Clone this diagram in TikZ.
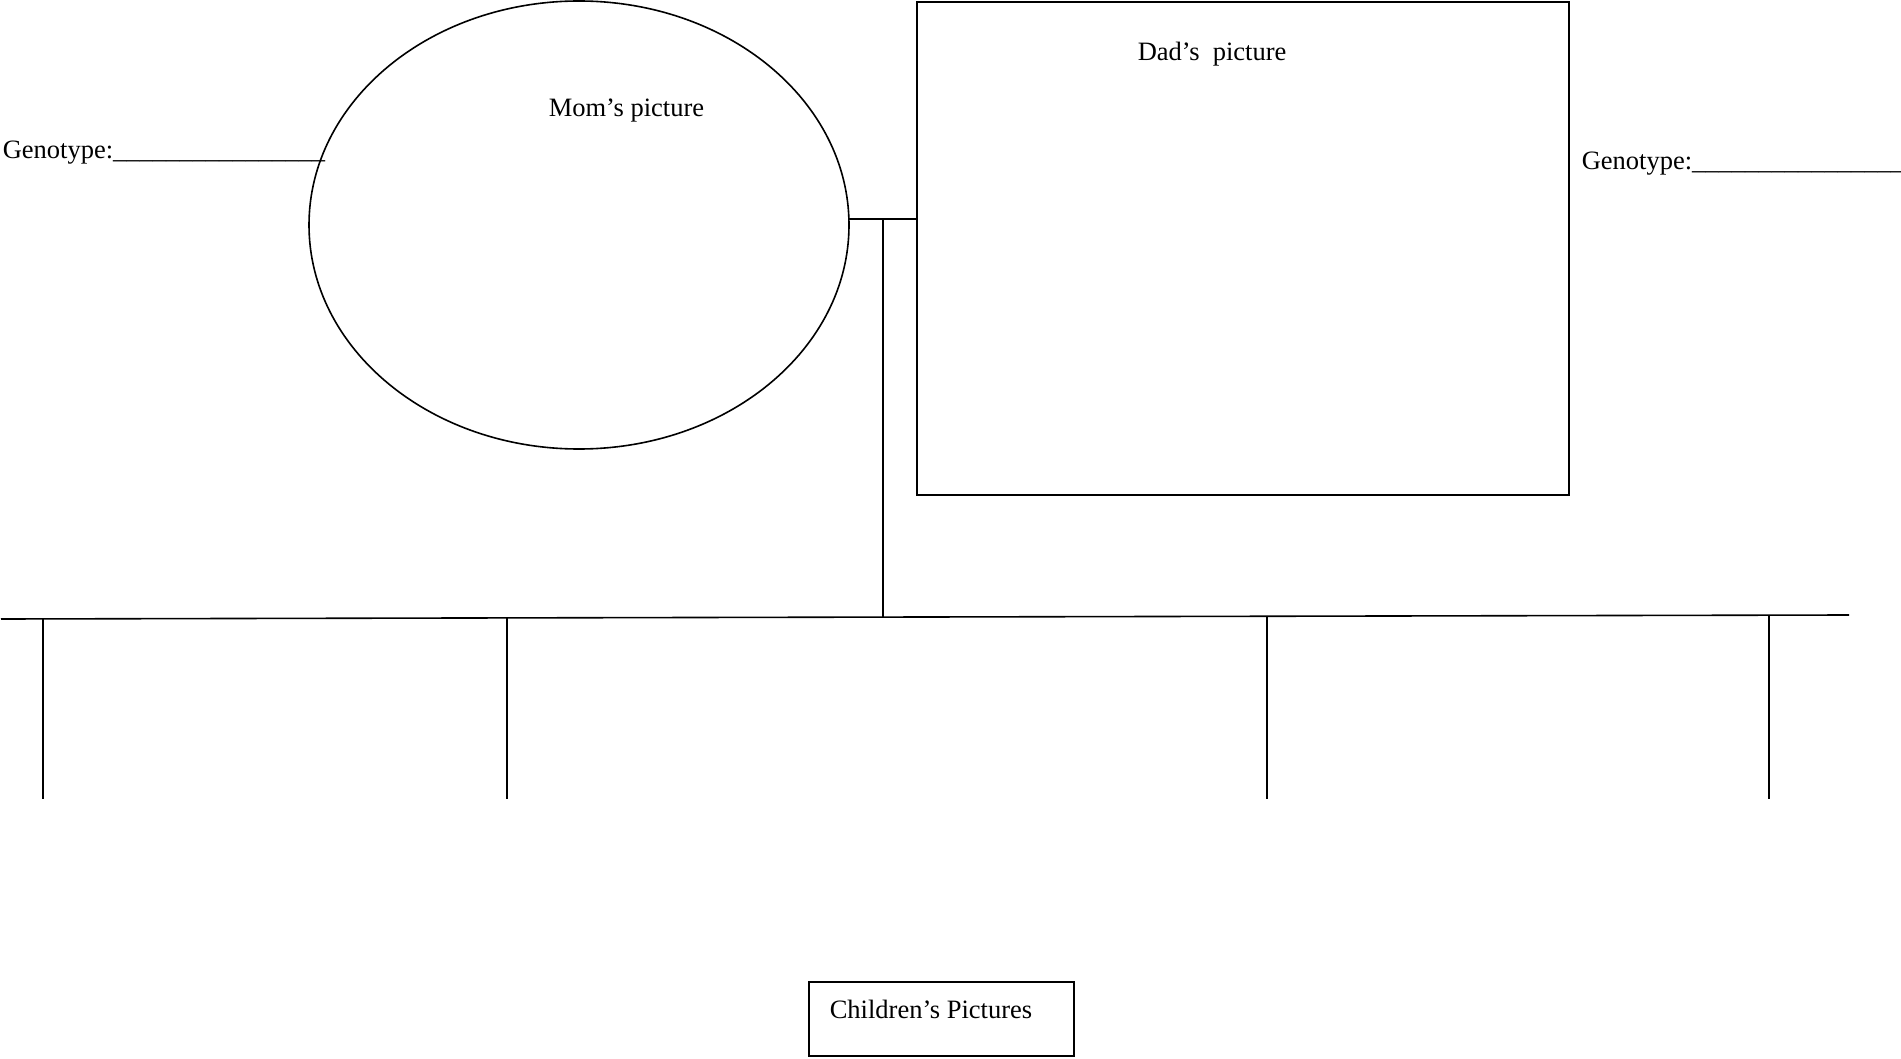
\documentclass[tikz,border=0pt]{standalone}
\usepackage{fontspec}
\setmainfont{Liberation Serif}
\usetikzlibrary{shapes.geometric,positioning}

\begin{document}
\begin{tikzpicture}[
  x=1pt,y=-1pt,line width=1.6pt,
  frame/.style={draw=black,line width=1.6pt,inner sep=0pt},
  label/.style={font=\fontsize{26.5}{30}\selectfont,text=black,inner sep=0pt,anchor=base west},
  tree/.style={draw=black,line width=1.6pt}
]
\useasboundingbox (0,0) rectangle (1901,1059);

% 1. Parents.
\node[frame,ellipse,minimum width=540pt,minimum height=448pt]
  (mom) at (579,225) {};
\node[frame,rectangle,minimum width=652pt,minimum height=493pt]
  (dad) at (1243,248.5) {};
\node[label] (momtxt) at (548,117) {Mom’s picture};
\node[label] (dadtxt) at (1137,61) {Dad’s\ \ picture};
\node[label] (genoL) at (2,159) {Genotype:\_\_\_\_\_\_\_\_\_\_\_\_\_\_\_\_};
\node[label] (genoR) at (1581,170) {Genotype:\_\_\_\_\_\_\_\_\_\_\_\_\_\_\_\_};

% 2. Family tree lines.
\coordinate (mar) at (849,219);
\coordinate (join) at (883,219);
\coordinate (barL) at (1,619);
\coordinate (barR) at (1849,615);
\coordinate (barM) at (883,617.3);
\draw[tree] (mar) -- (mar -| dad.west);
\draw[tree] (join) -- (barM);
\draw[tree] (barL) -- (barR);
\foreach \x/\y [count=\i] in {43/619,507/617,1267/616,1769/615} {
  \coordinate (kid\i) at (\x,\y);
  \draw[tree] (kid\i) -- (\x,799);
}

% 3. Children caption.
\node[frame,rectangle,minimum width=265pt,minimum height=74pt]
  (kids) at (941.5,1019) {};
\node[label] (kidstxt) at (829,1018) {Children’s Pictures};

\end{tikzpicture}
\end{document}
